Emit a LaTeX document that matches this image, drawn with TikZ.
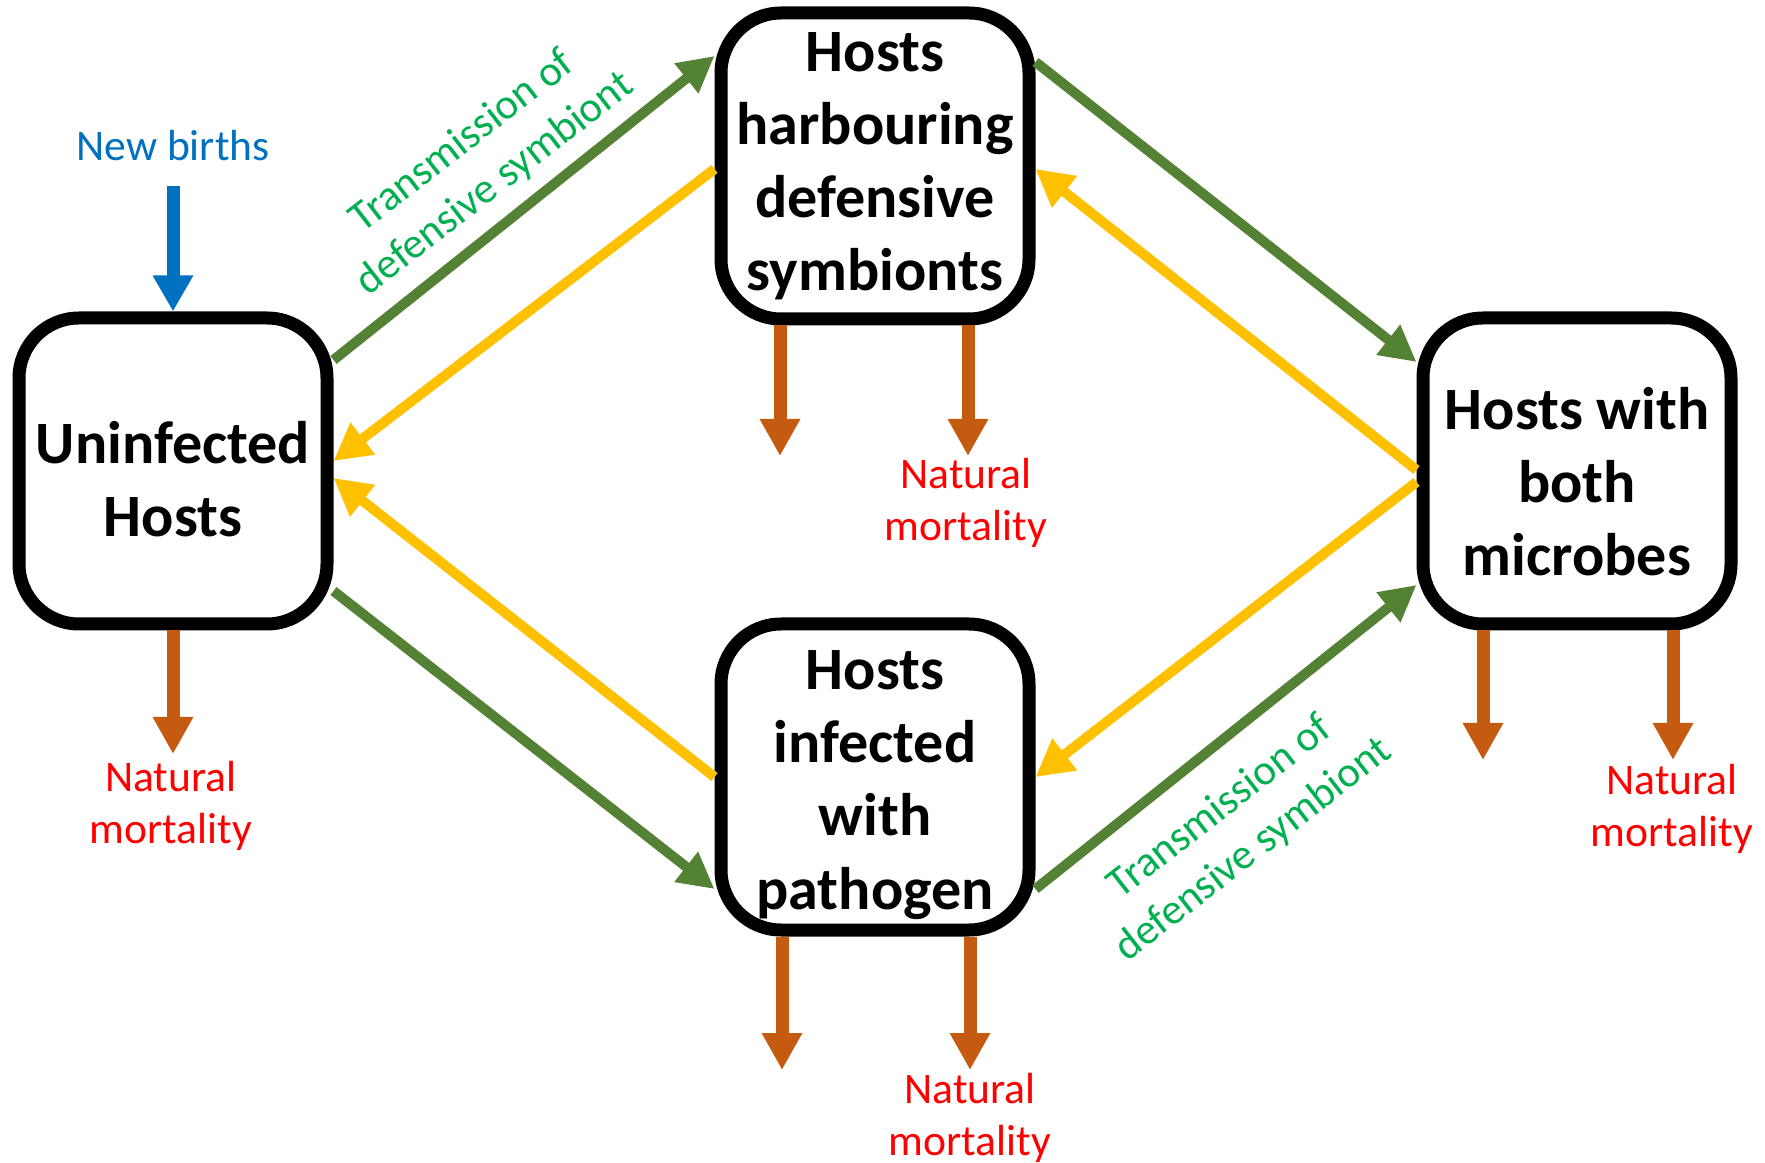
\documentclass[tikz,border=0pt]{standalone}
\usepackage{fontspec}
\setmainfont{Carlito}
\usetikzlibrary{arrows.meta,calc}
\definecolor{grn}{HTML}{548235}
\definecolor{ylw}{HTML}{FFC000}
\definecolor{org}{HTML}{C55A11}
\definecolor{blu}{HTML}{0070C0}
\definecolor{txtgrn}{HTML}{00B050}
\definecolor{txtred}{HTML}{FF0000}
\tikzset{
  hostbox/.style={draw=black, line width=1.3mm, rounded corners=6mm, fill=white,
    minimum width=30.8mm, minimum height=30.6mm, inner sep=0pt},
  boxtext/.style={inner sep=0pt, align=center,
    font=\bfseries\fontsize{17.1}{20.8}\selectfont},
  lbl/.style={inner sep=0pt, align=center, font=\fontsize{12.4}{14.8}\selectfont},
  greenarr/.style={draw=grn, line width=1.0mm, -{Triangle[length=3.6mm,width=3.6mm]}},
  yellowarr/.style={draw=ylw, line width=1.0mm, -{Triangle[length=3.7mm,width=3.8mm]}},
  deatharr/.style={draw=org, line width=1.3mm, -{Triangle[length=3.7mm,width=3.8mm]}},
  birtharr/.style={draw=blu, line width=1.3mm, -{Triangle[length=3.6mm,width=3.8mm]}},
}
\begin{document}
\begin{tikzpicture}[x=0.1mm,y=-0.1mm]
\useasboundingbox (0,0) rectangle (1765,1163);
% host compartments
\node[hostbox] (U) at (173,471) {};
\node[hostbox] (T) at (875,166) {};
\node[hostbox] (R) at (1577,471) {};
\node[hostbox] (B) at (875,777) {};
\node[boxtext] (Ut) at ([shift={(0,8)}]U.center) {Uninfected\\Hosts};
\node[boxtext] (Tt) at (T.center) {Hosts\\harbouring\\defensive\\symbionts};
\node[boxtext] (Rt) at ([shift={(0,11)}]R.center) {Hosts with\\both\\microbes};
\node[boxtext] (Bt) at ([shift={(0,8)}]B.center) {Hosts\\infected\\with\\pathogen};
% births
\coordinate (birth) at (173,186);
\node[lbl, text=blu] (nb) at (173,146) {New births};
\draw[birtharr] (birth) -- (U.north);
% transmission / recovery arrows
\draw[greenarr] ([shift={(0,-111)}]U.east) -- ([shift={(0,-110)}]T.west);
\draw[yellowarr] ([shift={(0,3)}]T.west) -- ([shift={(0,-10)}]U.east);
\draw[yellowarr] ([shift={(0,0)}]B.west) -- ([shift={(0,7)}]U.east);
\draw[greenarr] ([shift={(0,120)}]U.east) -- ([shift={(0,112)}]B.west);
\draw[greenarr] ([shift={(0,-104)}]T.east) -- ([shift={(0,-109)}]R.west);
\draw[yellowarr] ([shift={(0,-1)}]R.west) -- ([shift={(0,3)}]T.east);
\draw[yellowarr] ([shift={(0,11)}]R.west) -- ([shift={(0,0)}]B.east);
\draw[greenarr] ([shift={(0,112)}]B.east) -- ([shift={(0,114)}]R.west);
% transmission labels
\node[lbl, text=txtgrn, rotate=37.7, font=\fontsize{12.2}{15.2}\selectfont] (tr1) at (479,163) {Transmission of\\defensive symbiont};
\node[lbl, text=txtgrn, rotate=37.9, font=\fontsize{12.2}{15.2}\selectfont] (tr2) at (1237,829) {Transmission of\\defensive symbiont};
% mortality
\coordinate (dU) at (173,754);
\coordinate (dT1) at (780,456);
\coordinate (dT2) at (968,456);
\coordinate (dB1) at (782,1070);
\coordinate (dB2) at (970,1070);
\coordinate (dR1) at (1483,760);
\coordinate (dR2) at (1673,760);
\draw[deatharr] (U.south) -- (dU);
\draw[deatharr] (T.south -| dT1) -- (dT1);
\draw[deatharr] (T.south -| dT2) -- (dT2);
\draw[deatharr] (B.south -| dB1) -- (dB1);
\draw[deatharr] (B.south -| dB2) -- (dB2);
\draw[deatharr] (R.south -| dR1) -- (dR1);
\draw[deatharr] (R.south -| dR2) -- (dR2);
\node[lbl, text=txtred] (mU) at (171,806) {Natural\\mortality};
\node[lbl, text=txtred] (mT) at (966,503) {Natural\\mortality};
\node[lbl, text=txtred] (mB) at (970,1118) {Natural\\mortality};
\node[lbl, text=txtred] (mR) at (1672,809) {Natural\\mortality};
\end{tikzpicture}
\end{document}
